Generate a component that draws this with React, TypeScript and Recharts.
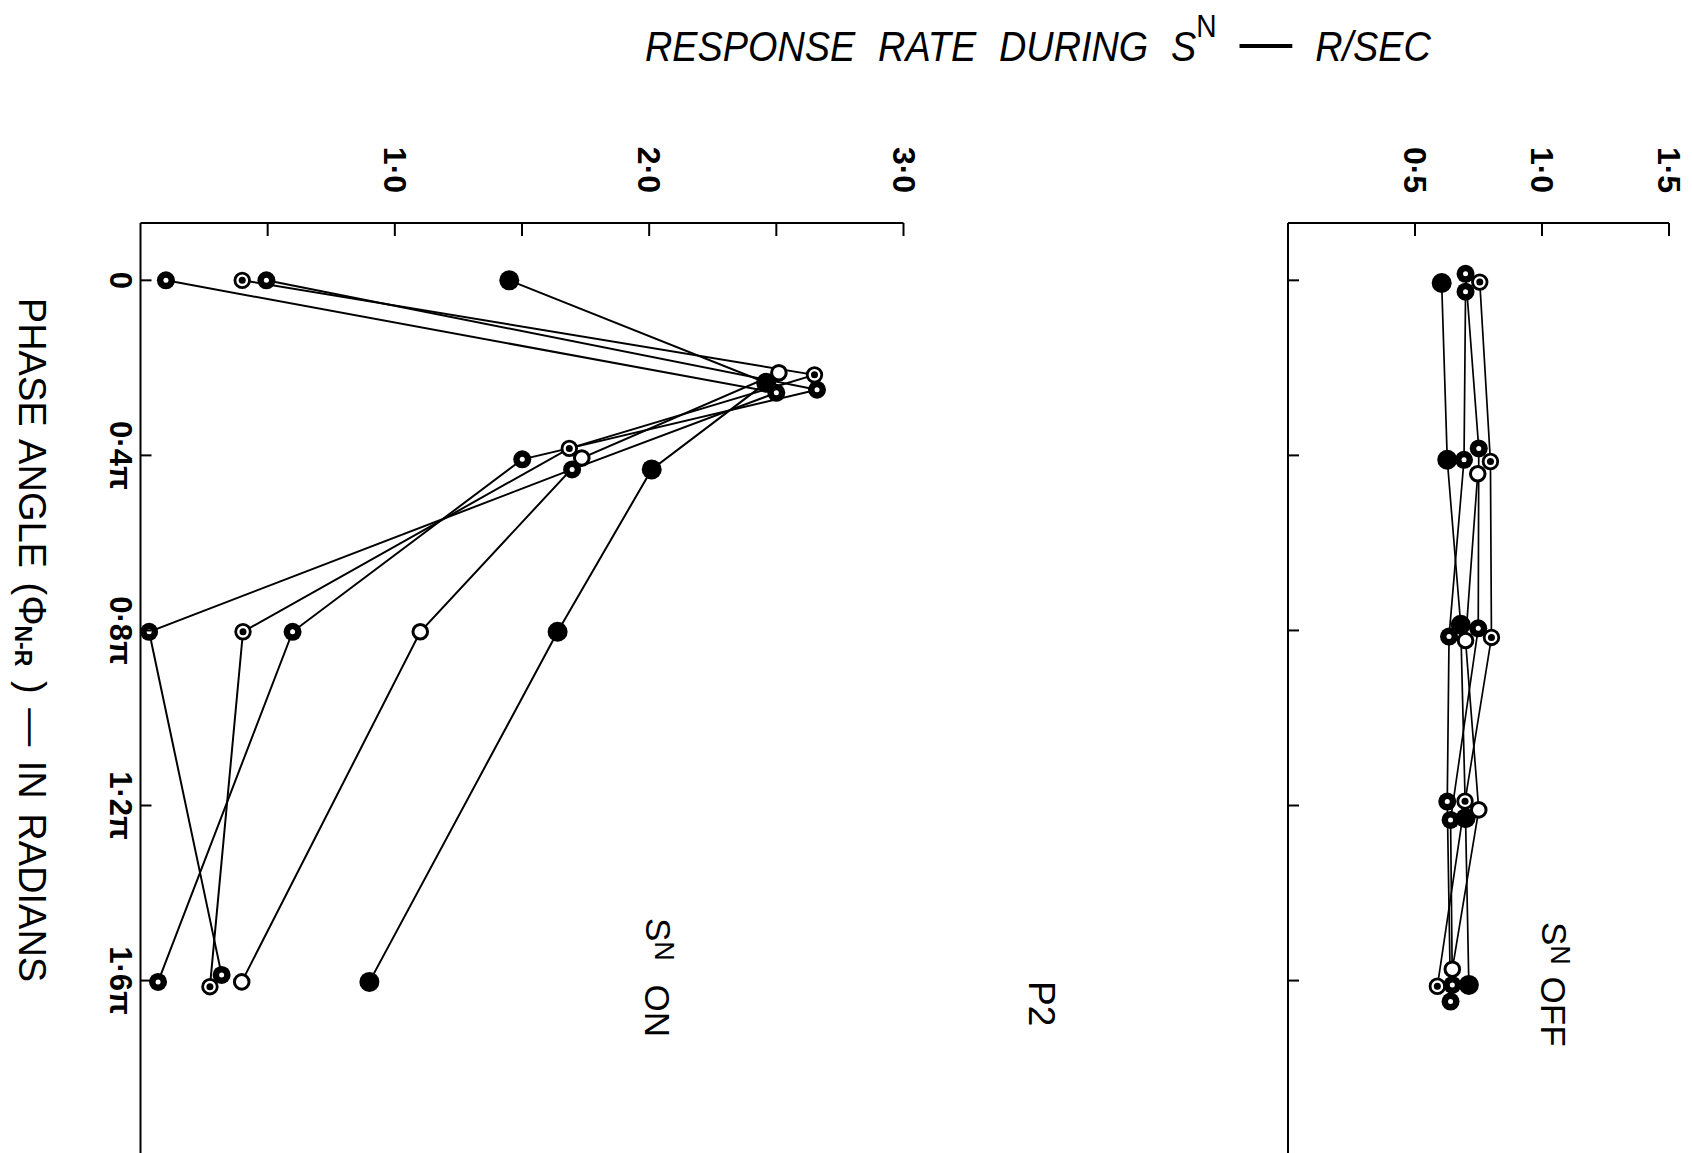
import React from "react";
import { ScatterChart, Scatter, XAxis, YAxis } from "recharts";

// points are [response rate (R/sec), phase angle (multiples of pi)]
// S^N ON panel
const onFilled = [[1.45, 0], [2.46, 0.234], [2.01, 0.432], [1.64, 0.803], [0.9, 1.603]];
const onOpen = [[2.51, 0.211], [1.735, 0.406], [1.1, 0.803], [0.398, 1.603]];
const onRing = [[0.4, 0], [2.65, 0.216], [1.686, 0.384], [0.403, 0.803], [0.273, 1.614]];
const onDotA = [[0.1, 0], [2.5, 0.257], [1.697, 0.432], [0.034, 0.803], [0.319, 1.587]];
const onDotB = [[0.495, 0], [2.66, 0.25], [1.501, 0.409], [0.598, 0.803], [0.069, 1.603]];

// S^N OFF panel
const offFilled = [[0.605, 0.006], [0.627, 0.41], [0.68, 0.787], [0.699, 1.229], [0.712, 1.61]];
const offOpen = [[0.747, 0.442], [0.699, 0.823], [0.751, 1.21], [0.647, 1.574]];
const offRing = [[0.755, 0.004], [0.797, 0.414], [0.801, 0.816], [0.697, 1.19], [0.588, 1.613]];
const offDotA = [[0.699, -0.015], [0.751, 0.384], [0.749, 0.795], [0.64, 1.233], [0.647, 1.61]];
const offDotB = [[0.699, 0.026], [0.693, 0.41], [0.634, 0.814], [0.627, 1.191], [0.64, 1.648]];

const leftRateTicks = [0.5, 1, 1.5, 2, 2.5, 3];
const leftRateLabels = ["", "1·0", "", "2·0", "", "3·0"];
const rightRateTicks = [0.5, 1, 1.5];
const rightRateLabels = ["0·5", "1·0", "1·5"];
const phaseTicks = [0, 0.4, 0.8, 1.2, 1.6];
const phaseLabels = ["0", "0·4π", "0·8π", "1·2π", "1·6π"];

const FONT = "'Liberation Sans', Arial, sans-serif";
const toPts = (arr: number[][]) => arr.map(([rate, phase]) => ({ rate, phase }));

function Marker(props: any) {
  const { cx, cy, kind } = props;
  if (cx == null || cy == null) return <g />;
  if (kind === "filled") return <circle cx={cx} cy={cy} r={10} fill="#000" />;
  if (kind === "dot")
    return (
      <g>
        <circle cx={cx} cy={cy} r={9} fill="#000" />
        <circle cx={cx} cy={cy} r={2.5} fill="#fff" />
      </g>
    );
  if (kind === "ring")
    return (
      <g>
        <circle cx={cx} cy={cy} r={7.3} fill="#fff" stroke="#000" strokeWidth={2.8} />
        <circle cx={cx} cy={cy} r={3.5} fill="#000" />
      </g>
    );
  return <circle cx={cx} cy={cy} r={7.3} fill="#fff" stroke="#000" strokeWidth={3} />;
}

function RateTick(props: any) {
  const { x, y, payload, ticks, labels } = props;
  const label = labels[ticks.indexOf(payload.value)] || "";
  const ly = y - 53;
  return (
    <g>
      <line x1={x} y1={y} x2={x} y2={y + 13} stroke="#000" strokeWidth={2} />
      {label && (
        <text x={x} y={ly} transform={`rotate(90 ${x} ${ly})`} textAnchor="middle"
          dominantBaseline="central" fontSize={32} fontWeight={700} fontFamily={FONT} fill="#000">
          {label}
        </text>
      )}
    </g>
  );
}

function PhaseTick(props: any) {
  const { x, y, payload, showLabel } = props;
  const label = showLabel ? phaseLabels[phaseTicks.indexOf(payload.value)] || "" : "";
  const lx = x - 20;
  return (
    <g>
      <line x1={x} y1={y} x2={x + 11} y2={y} stroke="#000" strokeWidth={2} />
      {label && (
        <text x={lx} y={y} transform={`rotate(90 ${lx} ${y})`} textAnchor="middle"
          dominantBaseline="central" fontSize={31} fontWeight={700} fontFamily={FONT} fill="#000">
          {label}
        </text>
      )}
    </g>
  );
}

const lineStyle = { stroke: "#000", strokeWidth: 2 };
const noShape = () => <g />;

function Panel(props: any) {
  const { width, yWidth, right, max, ticks, labels, series, showPhaseLabels, lw } = props;
  return (
    <ScatterChart width={width} height={1153} margin={{ top: 0, right, bottom: 0, left: 0 }}>
      <XAxis type="number" dataKey="rate" orientation="top" height={223} domain={[0, max]}
        allowDataOverflow ticks={ticks} tickSize={0} tickMargin={0} tickLine={false}
        axisLine={{ stroke: "#000", strokeWidth: 2 }}
        tick={(p: any) => <RateTick {...p} ticks={ticks} labels={labels} />} />
      <YAxis type="number" dataKey="phase" reversed width={yWidth} domain={[-0.131, 1.994]}
        allowDataOverflow ticks={phaseTicks} tickSize={0} tickMargin={0} tickLine={false}
        axisLine={{ stroke: "#000", strokeWidth: 2 }}
        tick={(p: any) => <PhaseTick {...p} showLabel={showPhaseLabels} />} />
      {series.map((s: any, i: number) => (
        <Scatter key={"l" + i} data={toPts(s.data)} line={{ ...lineStyle, strokeWidth: lw }}
          shape={noShape} isAnimationActive={false} />
      ))}
      {series.map((s: any, i: number) => (
        <Scatter key={"m" + i} data={toPts(s.data)} isAnimationActive={false}
          shape={(p: any) => <Marker {...p} kind={s.kind} />} />
      ))}
    </ScatterChart>
  );
}

const onSeries = [
  { data: onFilled, kind: "filled" },
  { data: onOpen, kind: "open" },
  { data: onRing, kind: "ring" },
  { data: onDotA, kind: "dot" },
  { data: onDotB, kind: "dot" },
];
const offSeries = [
  { data: offFilled, kind: "filled" },
  { data: offOpen, kind: "open" },
  { data: offRing, kind: "ring" },
  { data: offDotA, kind: "dot" },
  { data: offDotB, kind: "dot" },
];

export default function App() {
  return (
    <div style={{ position: "fixed", left: 0, top: 0, width: 1692, height: 1153, background: "#fff", overflow: "hidden" }}>
      <div style={{ position: "absolute", left: 0, top: 0 }}>
        <Panel width={960} yWidth={140.5} right={56.5} max={3} ticks={leftRateTicks}
          labels={leftRateLabels} series={onSeries} showPhaseLabels lw={2} />
      </div>
      <div style={{ position: "absolute", left: 1150, top: 0 }}>
        <Panel width={542} yWidth={138} right={23} max={1.5} ticks={rightRateTicks}
          labels={rightRateLabels} series={offSeries} showPhaseLabels={false} lw={1.7} />
      </div>
      <svg width={1692} height={1153} style={{ position: "absolute", left: 0, top: 0, pointerEvents: "none" }}
        fontFamily={FONT} fill="#000">
        <text x={645} y={61} fontSize={43} fontStyle="italic" wordSpacing={14}
          transform="translate(645 0) scale(0.88 1) translate(-645 0)">
          RESPONSE RATE DURING S
          <tspan fontSize={32} dy={-24} fontStyle="normal">N</tspan>
          <tspan dy={24}>{" "}</tspan>
          <tspan fontSize={60} dy={0} fontStyle="normal">{"—"}</tspan>
          <tspan>{" R/SEC"}</tspan>
        </text>
        <text x={32} y={640} fontSize={38} textAnchor="middle" dominantBaseline="central"
          wordSpacing={4} transform="rotate(90 32 640)">
          {"PHASE ANGLE (Φ"}
          <tspan fontSize={23} fontWeight={700} dy={9}>N-R</tspan>
          <tspan dy={-9}>{" ) — IN RADIANS"}</tspan>
        </text>
        <text x={658} y={918} fontSize={35} dominantBaseline="central" wordSpacing={14}
          transform="rotate(90 658 918)">
          S<tspan fontSize={27} dy={-6}>N</tspan>
          <tspan dy={6}>{" ON"}</tspan>
        </text>
        <text x={1041} y={981} fontSize={37} dominantBaseline="central" transform="rotate(90 1041 981)">
          P2
        </text>
        <text x={1554} y={922} fontSize={35} dominantBaseline="central" wordSpacing={2}
          transform="rotate(90 1554 922)">
          S<tspan fontSize={27} dy={-6}>N</tspan>
          <tspan dy={6}>{" OFF"}</tspan>
        </text>
      </svg>
    </div>
  );
}
